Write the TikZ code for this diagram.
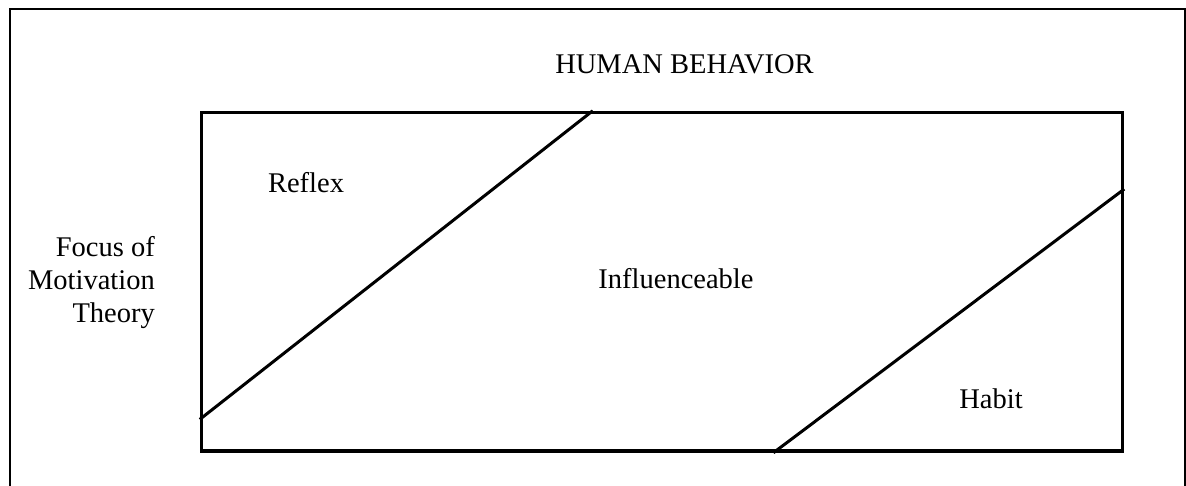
\documentclass[tikz,border=0pt]{standalone}
\usepackage{fontspec}
\setmainfont{Liberation Serif}
\usepackage{tikz}
\usetikzlibrary{positioning, calc}

\begin{document}
\begin{tikzpicture}[
  x=1pt, y=-1pt,
  frame/.style  = {draw=black, line width=2pt},
  field/.style  = {draw=black, line width=3.5pt, minimum width=921pt,
                   minimum height=338.5pt, inner sep=0pt},
  split/.style  = {draw=black, line width=3pt},
  label/.style  = {font=\fontsize{28.5}{33}\selectfont, inner sep=0pt}
]
\useasboundingbox (0,0) rectangle (1186,485);

% ── FRAME ───────────────────────────────────────────────
\draw[frame] (9.5,8.5) rectangle (1185,500);

% ── FIELD ───────────────────────────────────────────────
\node[field] (box) at (662,281.75) {};
\coordinate (r1) at ($(box.north west)!0.4251!(box.north east)$);
\coordinate (r2) at ($(box.north west)!0.9025!(box.south west)$);
\coordinate (h1) at ($(box.south west)!0.6205!(box.south east)$);
\coordinate (h2) at ($(box.north east)!0.2290!(box.south east)$);
\draw[split] (r2) -- (r1);
\draw[split] (h1) -- (h2);

% ── LABELS ──────────────────────────────────────────────
\node[label, anchor=base] (title) at (684.5,73) {HUMAN BEHAVIOR};
\node[label, anchor=base] (reflex) at (306,192) {Reflex};
\node[label, anchor=base] (infl) at (676,288) {Influenceable};
\node[label, anchor=base] (habit) at (991,408) {Habit};
\node[label, align=right, anchor=base east] (focus) at (155,322)
     {Focus of\\Motivation\\Theory};

\end{tikzpicture}
\end{document}
